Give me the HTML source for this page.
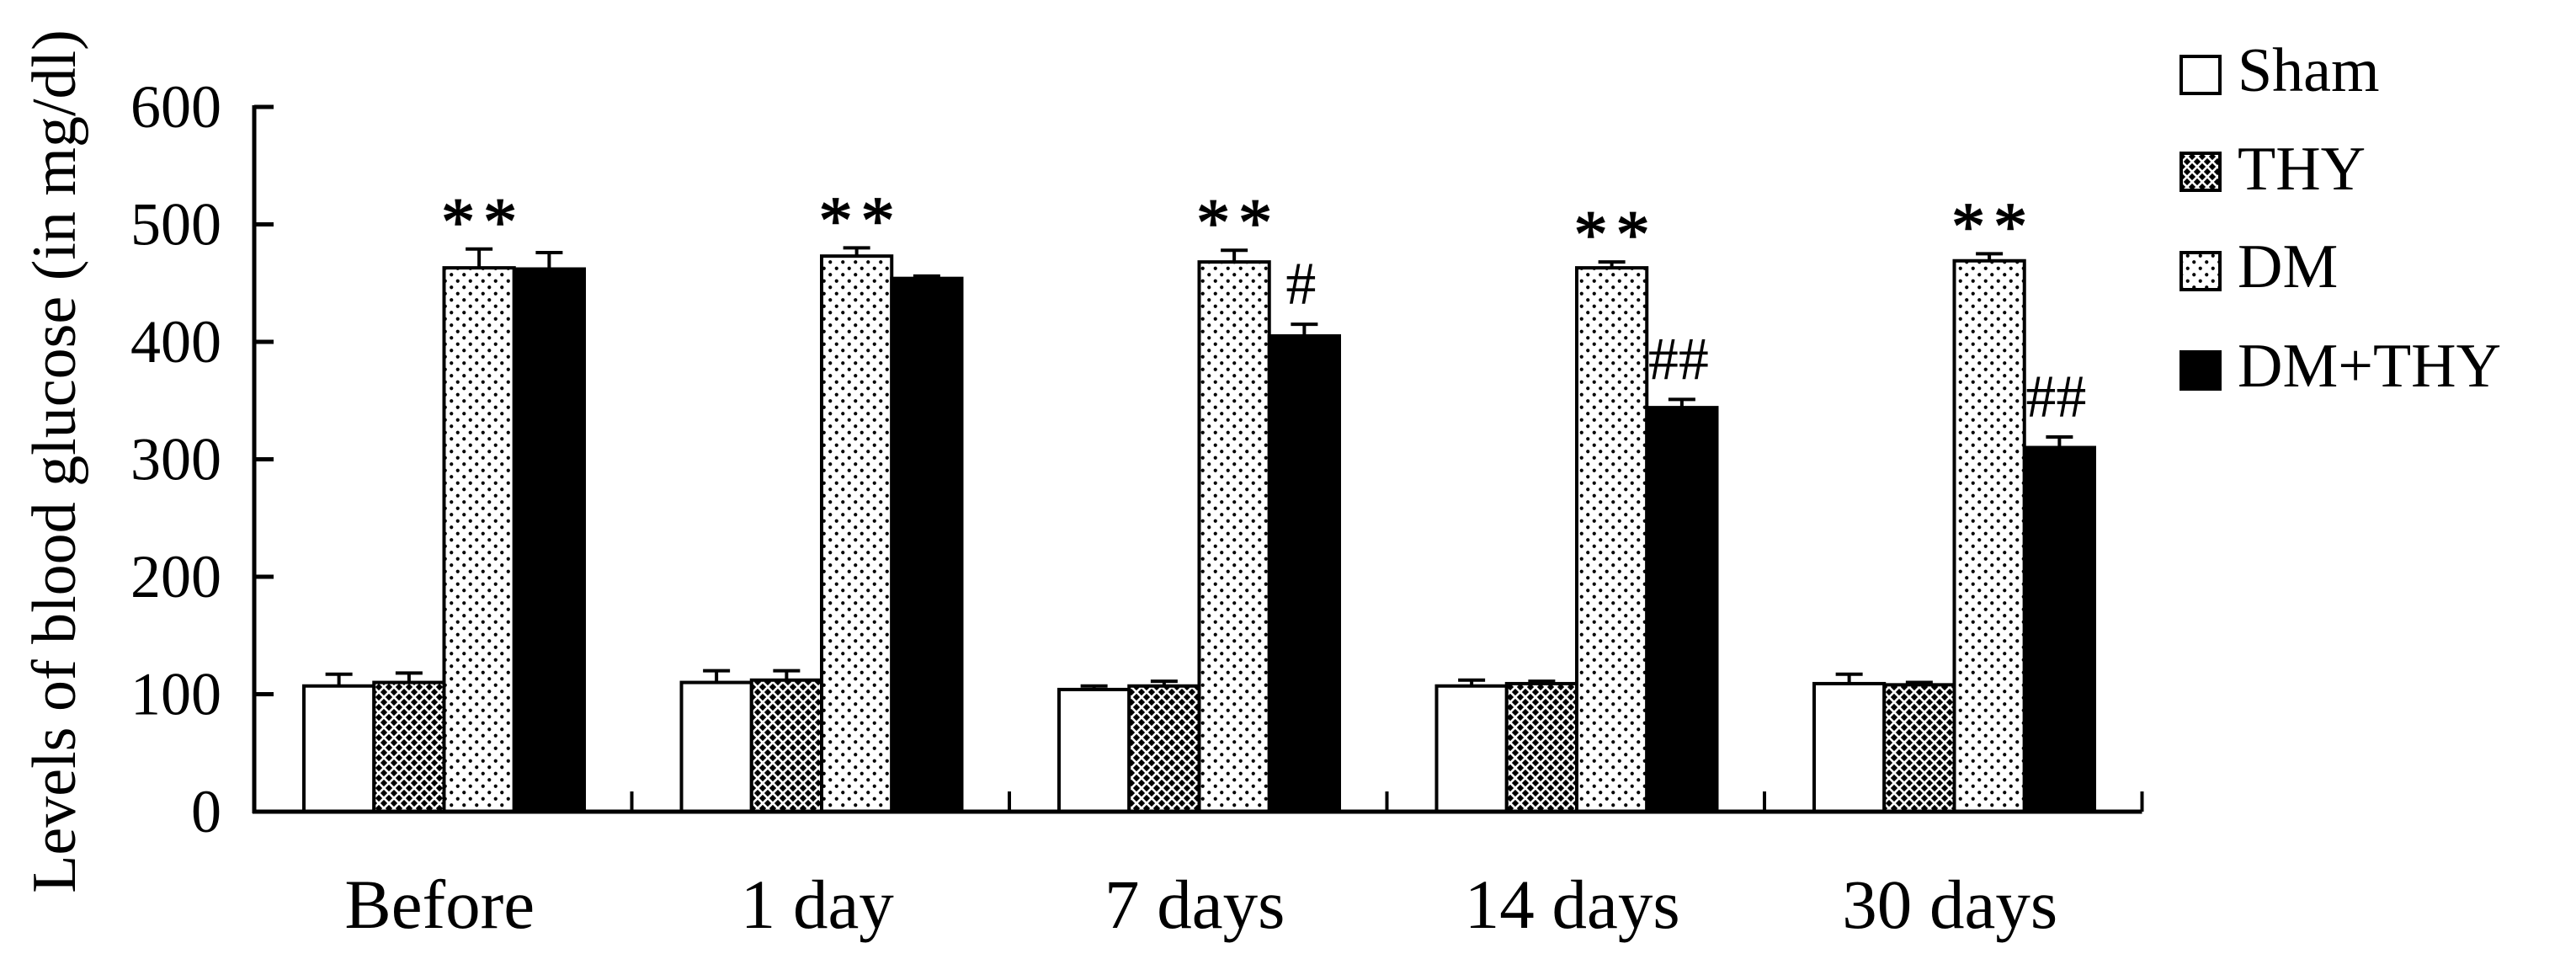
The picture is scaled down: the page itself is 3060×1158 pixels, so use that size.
<!DOCTYPE html>
<html><head><meta charset="utf-8"><style>
html,body{margin:0;padding:0;background:#fff;}
svg{display:block;font-family:"Liberation Serif","Times New Roman",serif;}
</style></head><body>
<svg id="chart" width="3060" height="1158" viewBox="0 0 3060 1158" xmlns="http://www.w3.org/2000/svg">
<defs>
<pattern id="pat-cross" patternUnits="userSpaceOnUse" width="12" height="12">
<rect width="12" height="12" fill="#000"/>
<path d="M0 0 L12 12 M12 0 L0 12" stroke="#fff" stroke-width="2.6"/>
<path d="M-6 6 L6 18 M6 -6 L18 6 M18 6 L6 18 M-6 6 L6 -6" stroke="#fff" stroke-width="2.6"/>
</pattern>
<pattern id="pat-dots" patternUnits="userSpaceOnUse" width="15" height="15">
<rect width="15" height="15" fill="#fff"/>
<circle cx="3.75" cy="3.75" r="2.1" fill="#000"/>
<circle cx="11.25" cy="11.25" r="2.1" fill="#000"/>
</pattern>
</defs>
<g id="plot"></g>
</svg>
<script>
const categories = ["Before", "1 day", "7 days", "14 days", "30 days"];
const seriesNames = ["Sham", "THY", "DM", "DM+THY"];
const shamValues = [107, 110, 104, 107, 109];
const shamErrors = [10, 10, 3, 5, 8];
const thyValues = [110, 112, 107, 109, 108];
const thyErrors = [8, 8, 4, 2, 2];
const dmValues = [463, 473, 468, 463, 469];
const dmErrors = [16, 7, 10, 5, 6];
const dmthyValues = [462, 454, 405, 344, 310];
const dmthyErrors = [14, 2, 10, 7, 9];
const dmMarks = ["**", "**", "**", "**", "**"];
const dmthyMarks = ["", "", "#", "##", "##"];
const yTicks = [0, 100, 200, 300, 400, 500, 600];

const NS = "http://www.w3.org/2000/svg";
const g = document.getElementById("plot");
const X0 = 302, Y0 = 964, YTOP = 127, YMAX = 600;
const groupW = 448.5, barOff = 59, barW = 83.25;
function yScale(v){ return Y0 - (v / YMAX) * (Y0 - YTOP); }
function xBar(ci, si){ return X0 + ci * groupW + barOff + si * barW; }
function mk(tag, attrs){ const e = document.createElementNS(NS, tag); for (const k in attrs) e.setAttribute(k, attrs[k]); g.appendChild(e); return e; }

const fills = ["#fff", "url(#pat-cross)", "url(#pat-dots)", "#000"];
const vals = [shamValues, thyValues, dmValues, dmthyValues];
const errs = [shamErrors, thyErrors, dmErrors, dmthyErrors];
const keys = ["sham", "thy", "dm", "dmthy"];

for (let si = 0; si < 4; si++) {
  for (let ci = 0; ci < categories.length; ci++) {
    const v = vals[si][ci], e = errs[si][ci];
    const x = xBar(ci, si), y = yScale(v);
    const eb = mk("line", {x1: x + barW/2, x2: x + barW/2, y1: y, y2: yScale(v + e), stroke: "#000", "stroke-width": 4});
    
    
    const cap = mk("line", {x1: x + barW/2 - 16, x2: x + barW/2 + 16, y1: yScale(v + e), y2: yScale(v + e), stroke: "#000", "stroke-width": 4});
    
    
    const r = mk("rect", {x: x, y: y, width: barW, height: Y0 - y, fill: fills[si], stroke: "#000", "stroke-width": 4});
    
    
  }
}
for (let ci = 0; ci < categories.length; ci++) {
  if (dmMarks[ci]) {
    const x = xBar(ci, 2) + barW/2 + 5;
    const t = mk("text", {x: x, y: yScale(dmValues[ci] + dmErrors[ci]) - 6, "text-anchor": "middle", "font-size": 80, "letter-spacing": 10, "stroke": "#000", "stroke-width": 1.5});
    t.textContent = dmMarks[ci];
    
    
  }
  if (dmthyMarks[ci]) {
    const x = xBar(ci, 3) + barW/2 - 4;
    const t = mk("text", {x: x, y: yScale(dmthyValues[ci] + dmthyErrors[ci]) - 24, "text-anchor": "middle", "font-size": 72});
    t.textContent = dmthyMarks[ci];
    
    
  }
}
const ya = mk("line", {x1: X0, x2: X0, y1: YTOP - 2, y2: Y0 + 2, stroke: "#000", "stroke-width": 5});


const xa = mk("line", {x1: X0 - 2, x2: X0 + 5 * groupW, y1: Y0, y2: Y0, stroke: "#000", "stroke-width": 5});


for (const t of yTicks) {
  const y = yScale(t);
  const tk = mk("line", {x1: X0, x2: X0 + 23, y1: y, y2: y, stroke: "#000", "stroke-width": 5});
  
  
  const lb = mk("text", {x: 263, y: y + 24, "text-anchor": "end", "font-size": 72});
  lb.textContent = t;
  
  
}
for (let i = 1; i <= categories.length; i++) {
  const x = X0 + i * groupW;
  const tk = mk("line", {x1: x, x2: x, y1: Y0, y2: Y0 - 24, stroke: "#000", "stroke-width": 4});
  
  
}
categories.forEach((c, ci) => {
  const lb = mk("text", {x: X0 + ci * groupW + groupW/2 - 4, y: 1102, "text-anchor": "middle", "font-size": 83});
  lb.textContent = c;
  
  
});
const yt = mk("text", {x: 0, y: 0, "text-anchor": "middle", "font-size": 74, transform: "translate(89,548) rotate(-90)"});
yt.textContent = "Levels of blood glucose (in mg/dl)";


const legY = [65, 180, 298, 416];
const legBase = [108, 225, 341, 459];
seriesNames.forEach((n, i) => {
  const r = mk("rect", {x: 2591, y: legY[i] + 2, width: 46, height: 44, fill: fills[i], stroke: "#000", "stroke-width": 4});
  
  
  const t = mk("text", {x: 2658, y: legBase[i], "font-size": 74});
  t.textContent = n;
  
  
});
</script>
</body></html>
